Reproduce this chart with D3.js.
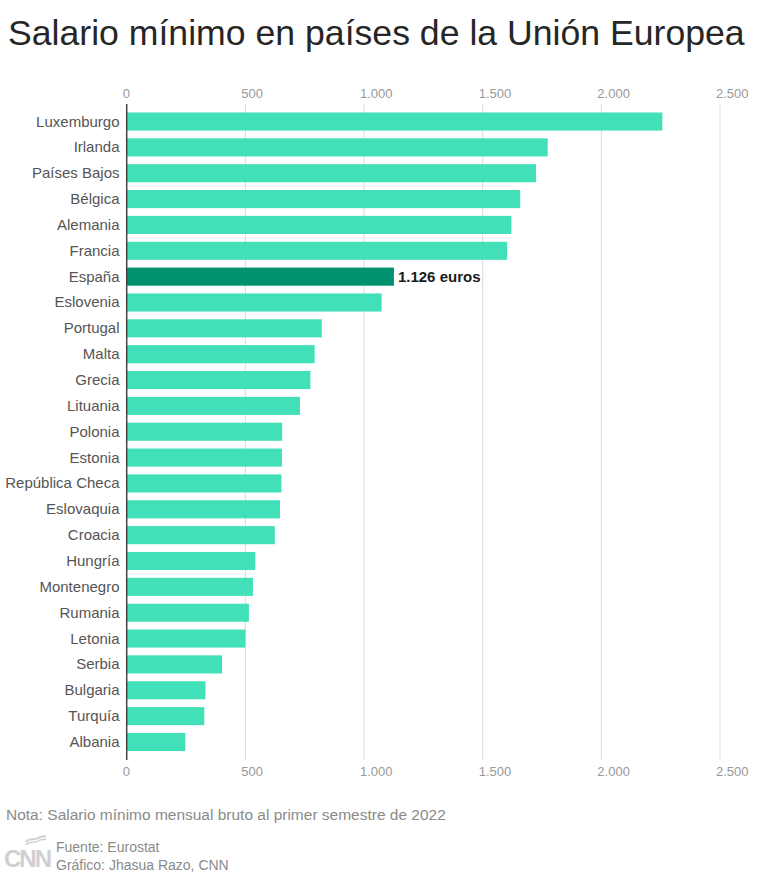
<!DOCTYPE html>
<html>
<head>
<meta charset="utf-8">
<script src="https://cdn.jsdelivr.net/npm/d3@7"></script>
<style>
  html, body { margin: 0; padding: 0; background: #fff; }
  svg { display: block; font-family: "Liberation Sans", Arial, sans-serif; }
</style>
</head>
<body>
<svg id="chart" width="768" height="882"></svg>
<script>
const countries = ["Luxemburgo","Irlanda","Países Bajos","Bélgica","Alemania","Francia","España","Eslovenia","Portugal","Malta","Grecia","Lituania","Polonia","Estonia","República Checa","Eslovaquia","Croacia","Hungría","Montenegro","Rumania","Letonia","Serbia","Bulgaria","Turquía","Albania"];
const salaries = [2257, 1774, 1725, 1658, 1621, 1603, 1126, 1074, 822, 792, 774, 730, 655, 654, 652, 646, 624, 542, 532, 515, 500, 402, 332, 327, 247];
const highlight = "España";
const highlightLabel = "1.126 euros";
const tickValues = [0, 500, 1000, 1500, 2000, 2500];
const tickLabels = ["0", "500", "1.000", "1.500", "2.000", "2.500"];
const title = "Salario mínimo en países de la Unión Europea";
const note = "Nota: Salario mínimo mensual bruto al primer semestre de 2022";
const source = "Fuente: Eurostat";
const credit = "Gráfico: Jhasua Razo, CNN";

const svg = d3.select("#chart");

const x = d3.scaleLinear().domain([0, 2500]).range([126.7, 720]);
const y = d3.scaleBand().domain(countries).range([108.6, 754.9]).paddingInner(0.3).paddingOuter(0.15);

function fitText(sel, width) {
  const len = sel.node().getComputedTextLength();
  const fs = parseFloat(sel.attr("font-size"));
  sel.attr("font-size", fs * width / len);
}

// Title
const t = svg.append("text").attr("x", 8).attr("y", 44.5)
  .attr("font-size", 35).attr("fill", "#262626").text(title);
fitText(t, 737);

// Gridlines
svg.append("g").selectAll("line").data(tickValues.slice(1)).join("line")
  .attr("x1", d => x(d)).attr("x2", d => x(d))
  .attr("y1", 104).attr("y2", 760)
  .attr("stroke", "#d9d9d9").attr("stroke-width", 1);

// Top and bottom tick labels
[93 + 4.5, 771 + 4.5].forEach(yy => {
  svg.append("g").selectAll("text").data(tickValues).join("text")
    .attr("x", d => x(d) - 4).attr("y", yy)
    .attr("font-size", 13).attr("fill", "#999")
    .text((d, i) => tickLabels[i]);
});

// Bars
svg.append("g").selectAll("rect").data(countries).join("rect")
  .attr("x", x(0))
  .attr("y", d => y(d))
  .attr("width", (d, i) => x(salaries[i]) - x(0))
  .attr("height", y.bandwidth())
  .attr("fill", d => d === highlight ? "#00916e" : "#41e0b8");

// Zero axis line
svg.append("line").attr("x1", x(0)).attr("x2", x(0)).attr("y1", 104).attr("y2", 760)
  .attr("stroke", "#444").attr("stroke-width", 1.5);

// Country labels
svg.append("g").selectAll("text").data(countries).join("text")
  .attr("x", 119.5)
  .attr("y", d => y(d) + y.bandwidth() / 2 + 5)
  .attr("text-anchor", "end")
  .attr("font-size", 15).attr("fill", "#555")
  .text(d => d);

// Highlight annotation
const hi = countries.indexOf(highlight);
svg.append("text")
  .attr("x", x(salaries[hi]) + 4)
  .attr("y", y(highlight) + y.bandwidth() / 2 + 5)
  .attr("font-size", 15).attr("font-weight", "bold").attr("fill", "#1a1a1a")
  .text(highlightLabel);

// Note
const n = svg.append("text").attr("x", 6).attr("y", 820)
  .attr("font-size", 14).attr("fill", "#8a8a8a").text(note);
fitText(n, 440);

// CNN logo (simple)
const logo = svg.append("g").attr("fill", "none").attr("stroke", "#d0d0d0");
logo.append("path").attr("d", "M 26 842 C 30 837, 34 841, 38 838 C 41 836, 43 837, 46 836")
  .attr("stroke-width", 2);
logo.append("path").attr("d", "M 26 845 C 30 840, 34 844, 38 841 C 41 839, 43 840, 46 839")
  .attr("stroke-width", 1.5);
svg.append("text").attr("x", 4).attr("y", 867)
  .attr("font-size", 24).attr("font-weight", "bold").attr("fill", "#d0d0d0")
  .attr("letter-spacing", -2).text("CNN");

// Source / credit
svg.append("text").attr("x", 56).attr("y", 852)
  .attr("font-size", 14).attr("fill", "#8a8a8a").text(source);
svg.append("text").attr("x", 56).attr("y", 870)
  .attr("font-size", 14).attr("fill", "#8a8a8a").text(credit);
</script>
</body>
</html>
